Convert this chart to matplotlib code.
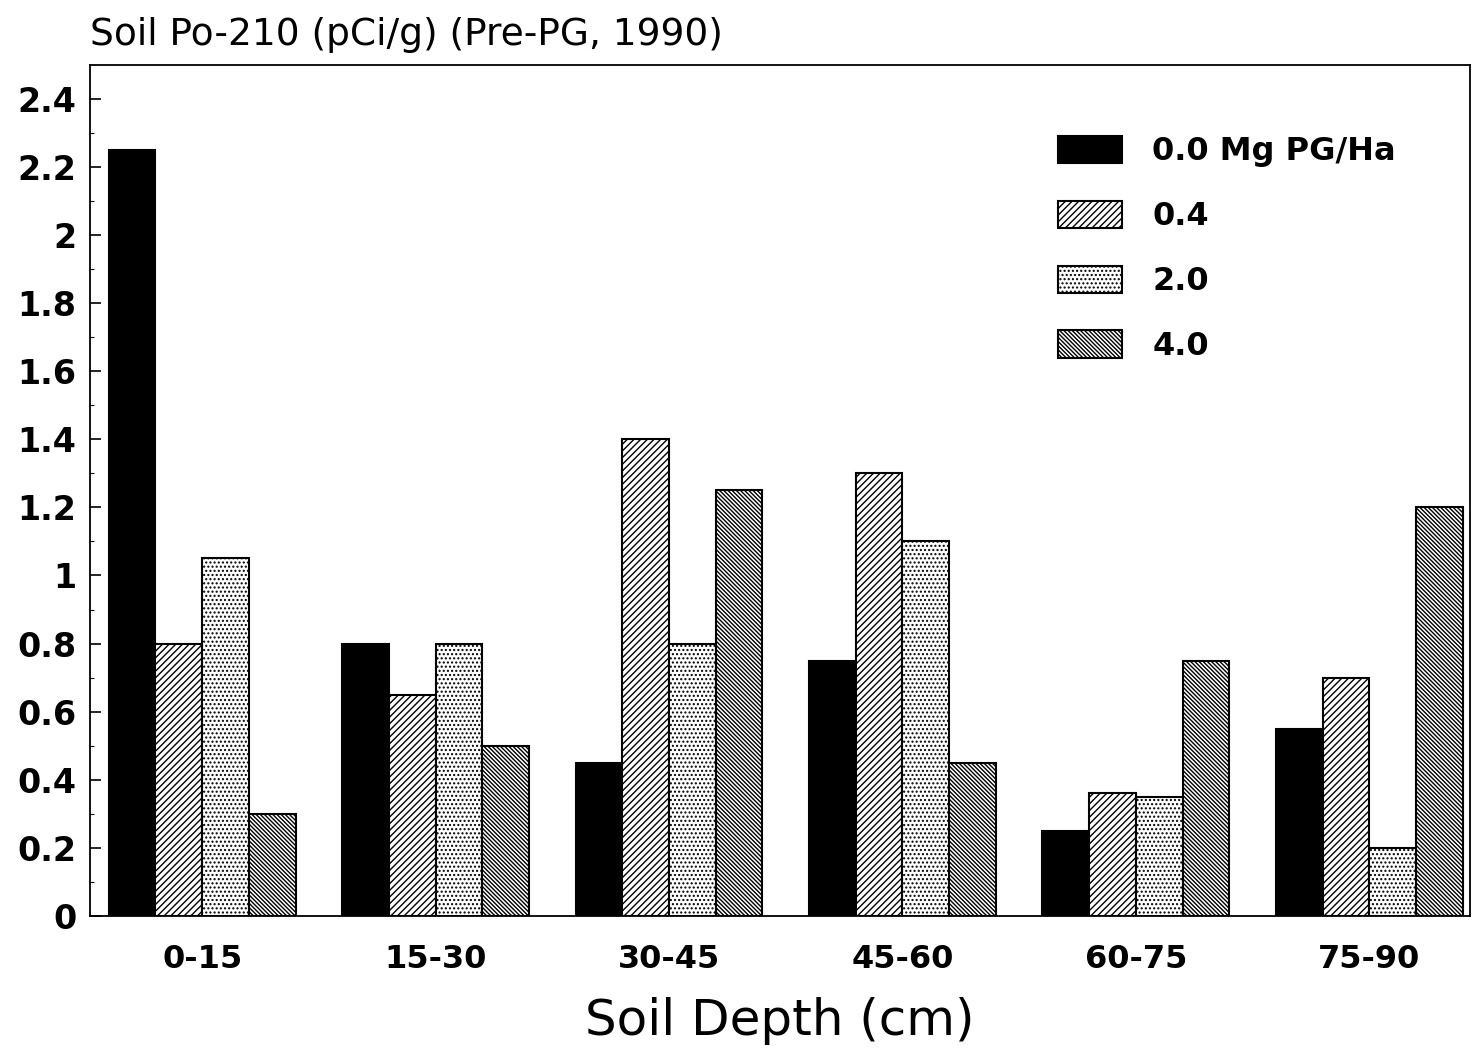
import numpy as np
import matplotlib
matplotlib.use('Agg')
import matplotlib.pyplot as plt

plt.rcParams['font.family'] = ['DejaVu Sans']
plt.rcParams['hatch.linewidth'] = 1.0

# Data
depths = ['0-15', '15-30', '30-45', '45-60', '60-75', '75-90']
rates = ['0.0 Mg PG/Ha', '0.4', '2.0', '4.0']
po_00 = [2.25, 0.80, 0.45, 0.75, 0.25, 0.55]
po_04 = [0.80, 0.65, 1.40, 1.30, 0.36, 0.70]
po_20 = [1.05, 0.80, 0.80, 1.10, 0.35, 0.20]
po_40 = [0.30, 0.50, 1.25, 0.45, 0.75, 1.20]

series = [po_00, po_04, po_20, po_40]
faces = ['black', 'white', 'white', 'white']
hatches = [None, '/' * 5, '.' * 4, '\\' * 8]

fig = plt.figure(figsize=(14.77, 10.49), dpi=100)
ax = fig.add_axes([0.061, 0.127, 0.934, 0.811])

x = np.arange(len(depths))
w = 0.2
for i, vals in enumerate(series):
    ax.bar(x + (i - 1.5) * w, vals, width=w, color=faces[i], edgecolor='black',
           hatch=hatches[i], linewidth=1.5, label=rates[i])

ax.set_xlim(-0.48, 5.43)
ax.set_ylim(0, 2.5)
ax.set_yticks(np.arange(0, 2.41, 0.2))
ax.set_yticks(np.arange(0.1, 2.5, 0.2), minor=True)
ax.set_yticklabels(['0', '0.2', '0.4', '0.6', '0.8', '1', '1.2', '1.4', '1.6', '1.8', '2', '2.2', '2.4'],
                   fontweight='bold')
ax.set_xticks(x)
ax.set_xticklabels(depths, fontweight='bold')
ax.tick_params(axis='y', which='major', direction='in', length=8, width=1.2, labelsize=24, pad=10)
ax.tick_params(axis='y', which='minor', direction='in', length=3, width=0.8)
ax.tick_params(axis='x', length=0, labelsize=23, pad=20)
for s in ax.spines.values():
    s.set_linewidth(1.3)

ax.set_xlabel('Soil Depth (cm)', fontsize=36, labelpad=16)
fig.text(0.061, 0.957, 'Soil Po-210 (pCi/g) (Pre-PG, 1990)', fontsize=27, ha='left', va='baseline')

ax.legend(loc='upper left', bbox_to_anchor=(0.697, 0.898), bbox_transform=fig.transFigure,
          frameon=False, prop={'size': 23, 'weight': 'bold'}, handlelength=2.0,
          handleheight=0.94, labelspacing=1.04, handletextpad=0.94)

fig.savefig('out.png', dpi=100)
